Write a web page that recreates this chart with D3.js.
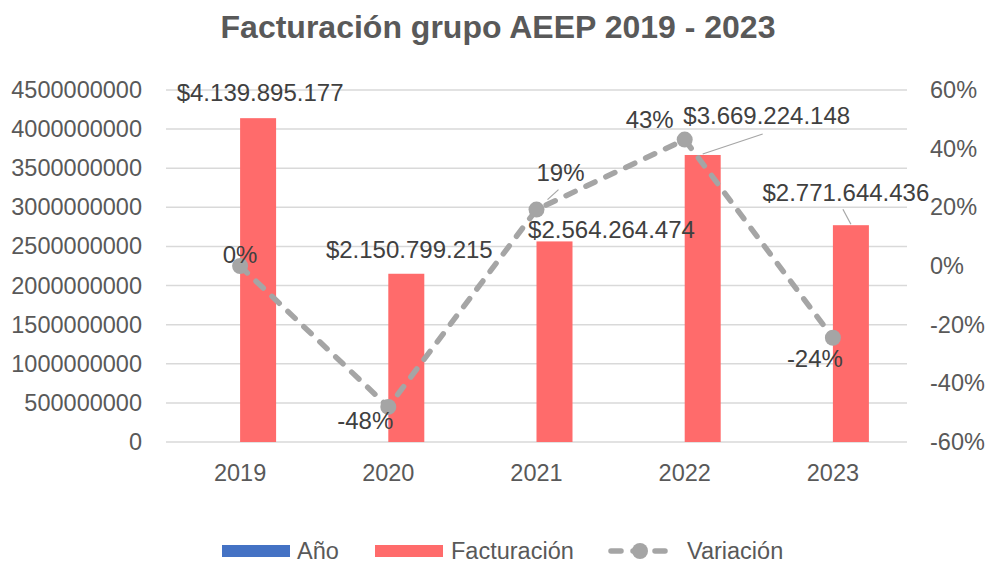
<!DOCTYPE html>
<html>
<head>
<meta charset="utf-8">
<style>
  body { margin: 0; background: #fff; }
  svg text { font-family: "Liberation Sans", Arial, sans-serif; }
</style>
</head>
<body>
<svg id="chart" width="987" height="563"></svg>
<script src="https://d3js.org/d3.v7.min.js"></script>
<script>
  const years = ["2019", "2020", "2021", "2022", "2023"];
  const anio = [2019, 2020, 2021, 2022, 2023];
  const facturacion = [4139895177, 2150799215, 2564264474, 3669224148, 2771644436];
  const variacion = [0, -0.4805, 0.1922, 0.4309, -0.2446];
  const leftTicks = [0, 500000000, 1000000000, 1500000000, 2000000000, 2500000000, 3000000000, 3500000000, 4000000000, 4500000000];
  const rightTicks = [-0.6, -0.4, -0.2, 0, 0.2, 0.4, 0.6];

  // label placement (offsets from the mark, in px), like Excel's dragged labels
  const barLabelOff = [[2, -17], [3, -16], [57, -3], [64, -31], [-5, -24]];
  const pctLabelOff = [[0, -3], [-23, 22], [24, -29], [-35, -12], [-18, 29]];

  const svg = d3.select("#chart");
  const plotL = 166, plotR = 907, plotT = 90, plotB = 442;
  const barColor = "#FF6B6B", lineColor = "#A5A5A5";

  const x = d3.scaleBand().domain(years).range([plotL, plotR]);
  const y = d3.scaleLinear().domain([0, 4500000000]).range([plotB, plotT]);
  const y2 = d3.scaleLinear().domain([-0.6, 0.6]).range([plotB, plotT]);
  const bw = 36;

  svg.append("text")
    .attr("x", 498).attr("y", 38)
    .attr("text-anchor", "middle")
    .attr("font-size", 32).attr("font-weight", "bold")
    .attr("fill", "#595959")
    .text("Facturación grupo AEEP 2019 - 2023");

  // gridlines
  svg.append("g").selectAll("line")
    .data(leftTicks)
    .join("line")
    .attr("x1", plotL).attr("x2", plotR)
    .attr("y1", d => y(d)).attr("y2", d => y(d))
    .attr("stroke", "#D9D9D9").attr("stroke-width", 1.5);

  // left axis
  const yAxis = svg.append("g")
    .attr("transform", `translate(${plotL - 21},0)`)
    .call(d3.axisLeft(y).tickValues(leftTicks).tickFormat(d3.format("d")).tickSize(0));
  yAxis.select(".domain").remove();
  yAxis.selectAll("text").attr("font-size", 23.5).attr("fill", "#595959")
    .attr("font-family", "Liberation Sans, Arial, sans-serif");

  // right axis
  const y2Axis = svg.append("g")
    .attr("transform", `translate(${plotR + 20},0)`)
    .call(d3.axisRight(y2).tickValues(rightTicks).tickSize(0));
  y2Axis.select(".domain").remove();
  y2Axis.selectAll("text").attr("font-size", 23.5).attr("fill", "#595959")
    .attr("font-family", "Liberation Sans, Arial, sans-serif")
    .text(d => Math.round(d * 100) + "%");

  // x axis
  const xAxis = svg.append("g")
    .attr("transform", `translate(0,${plotB + 19})`)
    .call(d3.axisBottom(x).tickSize(0));
  xAxis.select(".domain").remove();
  xAxis.selectAll("text").attr("font-size", 23.5).attr("fill", "#595959")
    .attr("font-family", "Liberation Sans, Arial, sans-serif");

  // bars
  const cx = d => x(d) + x.bandwidth() / 2;
  svg.append("g").selectAll("rect")
    .data(anio)
    .join("rect")
    .attr("x", (d, i) => cx(years[i]) - bw)
    .attr("y", d => y(d))
    .attr("width", bw)
    .attr("height", d => plotB - y(d))
    .attr("fill", "#4472C4");

  svg.append("g").selectAll("rect")
    .data(facturacion)
    .join("rect")
    .attr("x", (d, i) => cx(years[i]))
    .attr("y", d => y(d))
    .attr("width", bw)
    .attr("height", d => plotB - y(d))
    .attr("fill", barColor);

  // line
  const line = d3.line()
    .x((d, i) => cx(years[i]))
    .y(d => y2(d));
  svg.append("path")
    .datum(variacion)
    .attr("d", line)
    .attr("fill", "none")
    .attr("stroke", lineColor)
    .attr("stroke-width", 5.5)
    .attr("stroke-dasharray", "10 12")
    .attr("stroke-linecap", "round");

  svg.append("g").selectAll("circle")
    .data(variacion)
    .join("circle")
    .attr("cx", (d, i) => cx(years[i]))
    .attr("cy", d => y2(d))
    .attr("r", 8)
    .attr("fill", lineColor);

  // leader lines
  const leaders = [
    [cx(years[2]) + 11, y2(variacion[2]) - 10, cx(years[2]) + 22, y2(variacion[2]) - 20],
    [cx(years[3]) + 18, y(facturacion[3]) - 1, cx(years[3]) + 78, y(facturacion[3]) - 21],
    [cx(years[4]) + 18, y(facturacion[4]) - 1, cx(years[4]) + 10, y(facturacion[4]) - 16]
  ];
  svg.append("g").selectAll("line")
    .data(leaders)
    .join("line")
    .attr("x1", d => d[0]).attr("y1", d => d[1])
    .attr("x2", d => d[2]).attr("y2", d => d[3])
    .attr("stroke", "#A6A6A6").attr("stroke-width", 1.2);

  // data labels
  const money = v => "$" + d3.format(",")(v).replace(/,/g, ".");
  svg.append("g").selectAll("text")
    .data(facturacion)
    .join("text")
    .attr("x", (d, i) => cx(years[i]) + bw / 2 + barLabelOff[i][0])
    .attr("y", (d, i) => y(d) + barLabelOff[i][1])
    .attr("text-anchor", "middle")
    .attr("font-size", 24).attr("fill", "#404040")
    .text(money);

  svg.append("g").selectAll("text")
    .data(variacion)
    .join("text")
    .attr("x", (d, i) => cx(years[i]) + pctLabelOff[i][0])
    .attr("y", (d, i) => y2(d) + pctLabelOff[i][1])
    .attr("text-anchor", "middle")
    .attr("font-size", 24).attr("fill", "#404040")
    .text(d => Math.round(d * 100) + "%");

  // legend
  const lg = svg.append("g").attr("font-size", 23.5).attr("fill", "#595959");
  lg.append("rect").attr("x", 222).attr("y", 545).attr("width", 68).attr("height", 12).attr("fill", "#4472C4");
  lg.append("text").attr("x", 297).attr("y", 559).text("Año");
  lg.append("rect").attr("x", 375).attr("y", 545).attr("width", 68).attr("height", 12).attr("fill", barColor);
  lg.append("text").attr("x", 451).attr("y", 559).text("Facturación");
  lg.append("line").attr("x1", 611).attr("x2", 669).attr("y1", 551).attr("y2", 551)
    .attr("stroke", lineColor).attr("stroke-width", 5.5)
    .attr("stroke-dasharray", "10 12").attr("stroke-linecap", "round");
  lg.append("circle").attr("cx", 640).attr("cy", 551).attr("r", 8).attr("fill", lineColor);
  lg.append("text").attr("x", 687).attr("y", 559).text("Variación");
</script>
</body>
</html>
